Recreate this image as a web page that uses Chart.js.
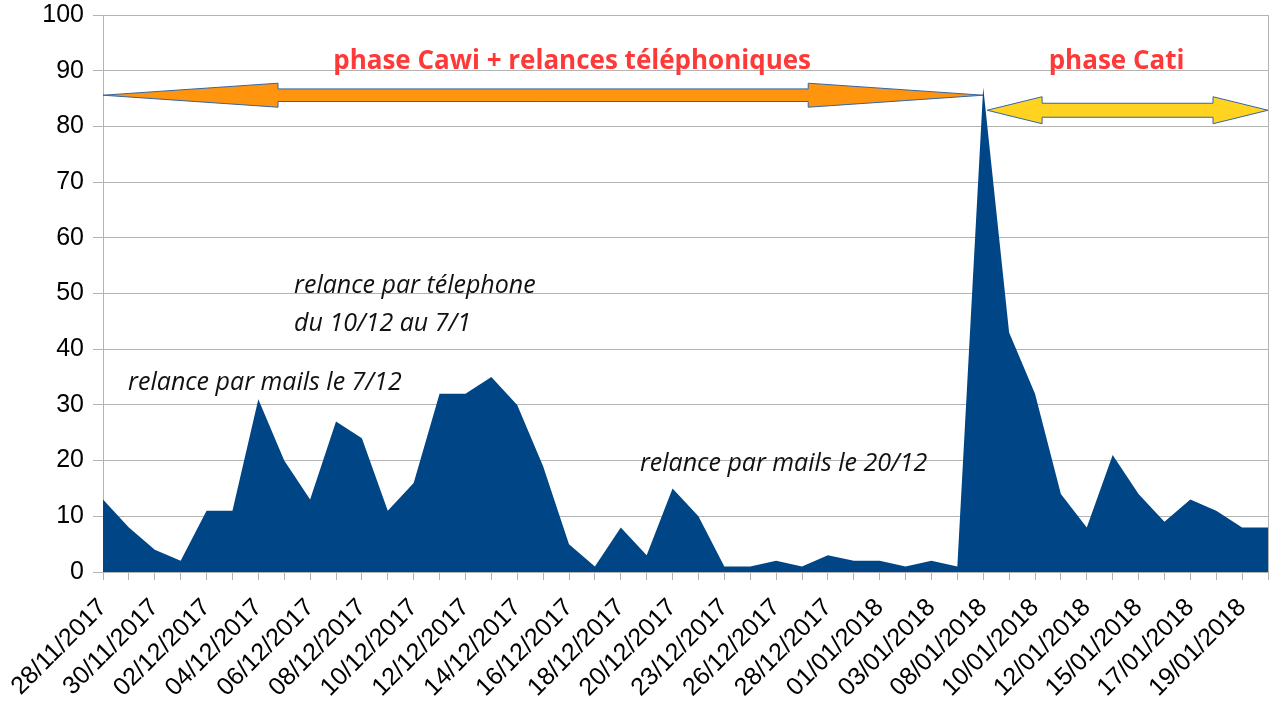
<!DOCTYPE html>
<html>
<head>
<meta charset="utf-8">
<script src="https://cdn.jsdelivr.net/npm/chart.js@4/dist/chart.umd.min.js"></script>
<style>
html,body{margin:0;padding:0;background:#fff;}
canvas{display:block;}
</style>
</head>
<body>
<canvas id="c" width="1271" height="702"></canvas>
<script>
// ---- data ----
const categories = [
  "28/11/2017","29/11/2017","30/11/2017","01/12/2017","02/12/2017","03/12/2017",
  "04/12/2017","05/12/2017","06/12/2017","07/12/2017","08/12/2017","09/12/2017",
  "10/12/2017","11/12/2017","12/12/2017","13/12/2017","14/12/2017","15/12/2017",
  "16/12/2017","17/12/2017","18/12/2017","19/12/2017","20/12/2017","21/12/2017",
  "23/12/2017","24/12/2017","26/12/2017","27/12/2017","28/12/2017","29/12/2017",
  "01/01/2018","02/01/2018","03/01/2018","05/01/2018","08/01/2018","09/01/2018",
  "10/01/2018","11/01/2018","12/01/2018","13/01/2018","15/01/2018","16/01/2018",
  "17/01/2018","18/01/2018","19/01/2018","20/01/2018"
];
const values = [
  13, 8, 4, 2, 11, 11,
  31, 20, 13, 27, 24, 11,
  16, 32, 32, 35, 30, 19,
  5, 1, 8, 3, 15, 10,
  1, 1, 2, 1, 3, 2,
  2, 1, 2, 1, 87, 43,
  32, 14, 8, 21, 14, 9,
  13, 11, 8, 8
];
const yMin = 0, yMax = 100, yStep = 10;

// ---- annotations (in data coordinates) ----
const arrows = [
  {from: 0, to: 34, y: 85.6, headLen: 175, headHalf: 12, shaftHalf: 6.3, fill: "#ff950e"},
  {from: 34.15, to: 45, y: 82.9, headLen: 55, headHalf: 13.5, shaftHalf: 7, fill: "#ffd320"}
];
const phaseLabels = [
  {text: "phase Cawi + relances téléphoniques", x: 18.12, y: 90.3},
  {text: "phase Cati", x: 39.15, y: 90.3}
];
const notes = [
  {lines: ["relance par télephone", "du 10/12 au 7/1"], x: 7.38, y: 50.1},
  {lines: ["relance par mails le 7/12"], x: 0.97, y: 32.7},
  {lines: ["relance par mails le 20/12"], x: 20.74, y: 18.2}
];

const GRID = "#b3b3b3";

const annotPlugin = {
  id: "annot",
  beforeDatasetsDraw(chart) {
    const ctx = chart.ctx, xs = chart.scales.x, ys = chart.scales.y;
    ctx.save();
    arrows.forEach(a => {
      const x1 = xs.getPixelForValue(a.from), x2 = xs.getPixelForValue(a.to);
      const yc = ys.getPixelForValue(a.y);
      const h = a.headLen, H = a.headHalf, s = a.shaftHalf;
      ctx.beginPath();
      ctx.moveTo(x1, yc);
      ctx.lineTo(x1 + h, yc - H);
      ctx.lineTo(x1 + h, yc - s);
      ctx.lineTo(x2 - h, yc - s);
      ctx.lineTo(x2 - h, yc - H);
      ctx.lineTo(x2, yc);
      ctx.lineTo(x2 - h, yc + H);
      ctx.lineTo(x2 - h, yc + s);
      ctx.lineTo(x1 + h, yc + s);
      ctx.lineTo(x1 + h, yc + H);
      ctx.closePath();
      ctx.fillStyle = a.fill;
      ctx.fill();
      ctx.lineWidth = 1;
      ctx.strokeStyle = "#3465a4";
      ctx.stroke();
    });
    ctx.restore();
  },
  afterDatasetsDraw(chart) {
    const ctx = chart.ctx, xs = chart.scales.x, ys = chart.scales.y;
    ctx.save();
    ctx.textBaseline = "alphabetic";
    ctx.fillStyle = "#ff3838";
    ctx.font = "bold 26px 'Open Sans'";
    ctx.textAlign = "center";
    phaseLabels.forEach(p => {
      ctx.fillText(p.text, xs.getPixelForValue(p.x), ys.getPixelForValue(p.y));
    });
    ctx.fillStyle = "#111";
    ctx.font = "italic 25px 'Open Sans'";
    ctx.textAlign = "left";
    notes.forEach(n => {
      const x = xs.getPixelForValue(n.x);
      const y0 = ys.getPixelForValue(n.y);
      n.lines.forEach((l, i) => ctx.fillText(l, x, y0 + i * 38));
    });
    ctx.restore();
  }
};

new Chart(document.getElementById("c"), {
  type: "line",
  data: {
    labels: categories,
    datasets: [{
      data: values,
      fill: "origin",
      backgroundColor: "#004586",
      borderColor: "#004586",
      borderWidth: 0,
      pointRadius: 0,
      tension: 0
    }]
  },
  options: {
    responsive: false,
    animation: false,
    devicePixelRatio: 1,
    layout: {padding: {top: 15, right: 3, left: 0, bottom: 0}},
    plugins: {legend: {display: false}, tooltip: {enabled: false}},
    scales: {
      x: {
        type: "category",
        offset: false,
        afterFit(s) { s.height = 130; s.paddingLeft = 0; s.paddingRight = 0; },
        border: {color: GRID, width: 1},
        grid: {
          drawOnChartArea: true,
          color: c => (c.index === 0 || c.index === categories.length - 1) ? GRID : "rgba(0,0,0,0)",
          tickColor: GRID,
          tickLength: 8,
          lineWidth: 1
        },
        ticks: {
          autoSkip: false,
          maxRotation: 45,
          minRotation: 45,
          padding: 13,
          color: "#000",
          font: {family: "'Liberation Sans'", size: 25},
          callback: function(v, i) { return i % 2 === 0 ? this.getLabelForValue(v) : ""; }
        }
      },
      y: {
        min: yMin, max: yMax,
        afterFit(s) { s.width = 103; s.paddingTop = 0; s.paddingBottom = 0; },
        border: {color: GRID, width: 1},
        grid: {color: GRID, tickColor: GRID, tickLength: 10, lineWidth: 1},
        ticks: {
          stepSize: yStep,
          padding: 9,
          color: "#000",
          font: {family: "'Liberation Sans'", size: 25}
        }
      }
    }
  },
  plugins: [annotPlugin]
});
</script>
</body>
</html>
